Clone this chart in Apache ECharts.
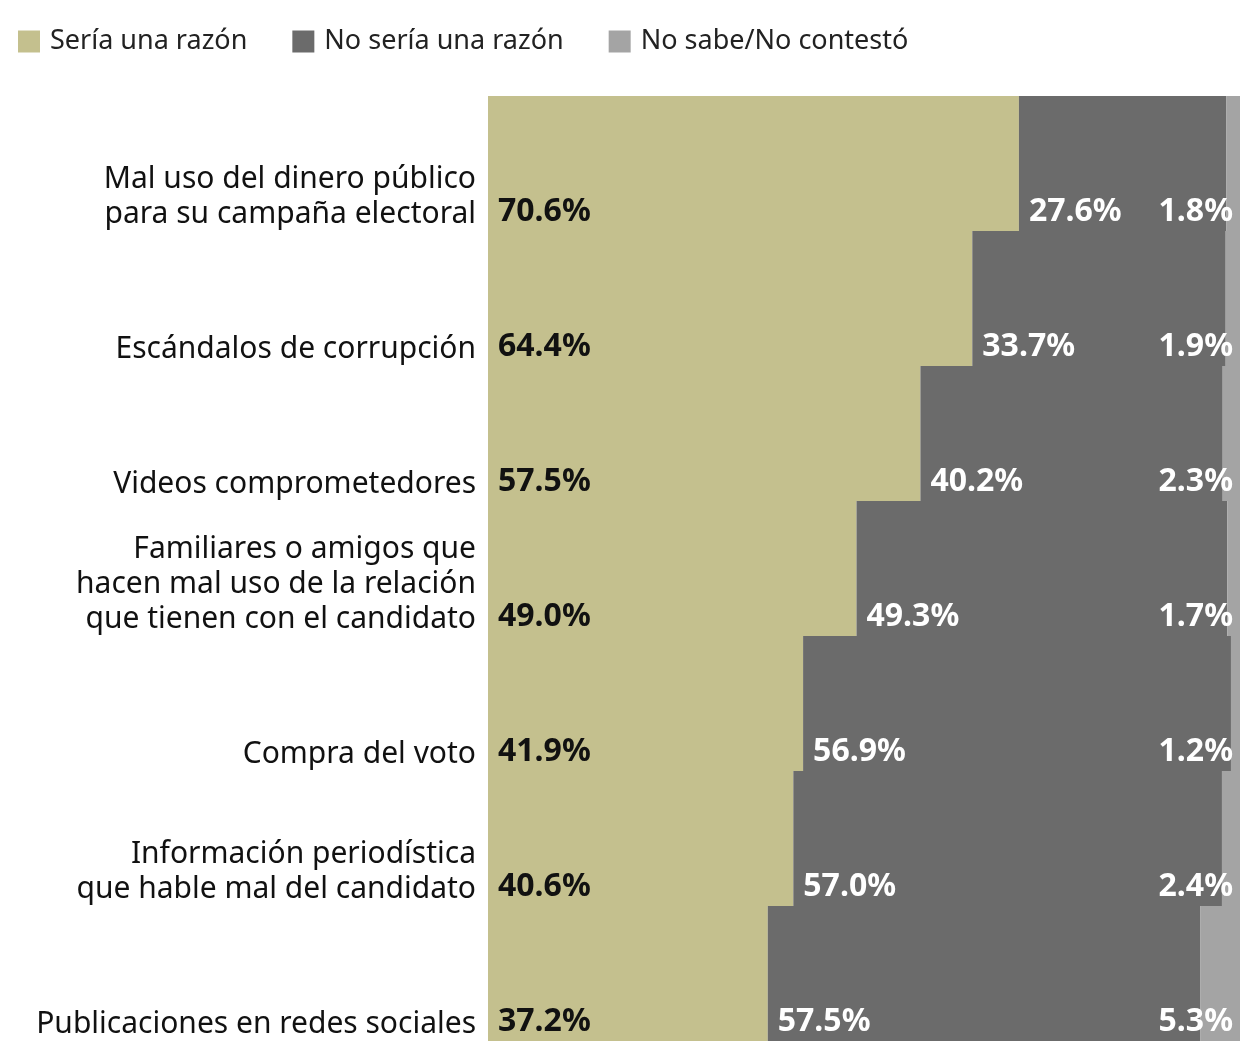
<!DOCTYPE html>
<html>
<head>
<meta charset="utf-8">
<script src="https://cdn.jsdelivr.net/npm/echarts@6/dist/echarts.min.js"></script>
<style>
  html, body { margin: 0; padding: 0; background: #fff; }
  #chart { width: 1240px; height: 1055px; }
</style>
</head>
<body>
<div id="chart"></div>
<script>
// categorías (de arriba hacia abajo)
const categories = [
  'Mal uso del dinero público\npara su campaña electoral',
  'Escándalos de corrupción',
  'Videos comprometedores',
  'Familiares o amigos que\nhacen mal uso de la relación\nque tienen con el candidato',
  'Compra del voto',
  'Información periodística\nque hable mal del candidato',
  'Publicaciones en redes sociales'
]
const seriaRazon = [70.6, 64.4, 57.5, 49.0, 41.9, 40.6, 37.2]
const noSeriaRazon = [27.6, 33.7, 40.2, 49.3, 56.9, 57.0, 57.5]
const noSabe = [1.8, 1.9, 2.3, 1.7, 1.2, 2.4, 5.3]
const seriesNames = ['Sería una razón', 'No sería una razón', 'No sabe/No contestó']

// colores
const colors = ['#c4c08e', '#6b6b6b', '#a4a4a4']
const font = 'Noto Sans'

function pct(p) {
  return p.value.toFixed(1) + '%'
}

const chart = echarts.init(document.getElementById('chart'))

const labelBase = {
  show: true,
  fontFamily: font,
  fontWeight: 'bold',
  fontSize: 32,
  offset: [0, 48],
  formatter: pct
}

const option = {
  animation: false,
  color: colors,
  legend: {
    left: 13,
    top: 23,
    itemWidth: 22,
    itemHeight: 22,
    itemGap: 45,
    icon: 'rect',
    textStyle: {
      fontFamily: font,
      fontSize: 27,
      color: '#222',
      padding: [0, 0, 0, 5]
    },
    data: seriesNames
  },
  grid: {
    left: 488,
    right: 0,
    top: 96,
    bottom: 14,
    containLabel: false
  },
  xAxis: {
    type: 'value',
    min: 0,
    max: 100,
    show: false
  },
  yAxis: {
    type: 'category',
    inverse: true,
    data: categories,
    axisLine: { show: false },
    axisTick: { show: false },
    axisLabel: {
      margin: 12,
      fontFamily: font,
      fontSize: 30,
      color: '#111',
      lineHeight: 35,
      align: 'right',
      verticalAlign: 'bottom',
      padding: [0, 0, -68, 0]
    }
  },
  series: [
    {
      name: seriesNames[0],
      type: 'bar',
      stack: 'total',
      barCategoryGap: 0,
      data: seriaRazon,
      label: Object.assign({}, labelBase, {
        position: 'insideLeft',
        distance: 10,
        color: '#111'
      })
    },
    {
      name: seriesNames[1],
      type: 'bar',
      stack: 'total',
      barCategoryGap: 0,
      data: noSeriaRazon,
      label: Object.assign({}, labelBase, {
        position: 'insideLeft',
        distance: 10,
        color: '#fff'
      })
    },
    {
      name: seriesNames[2],
      type: 'bar',
      stack: 'total',
      barCategoryGap: 0,
      data: noSabe,
      label: Object.assign({}, labelBase, {
        position: 'insideRight',
        distance: 7,
        color: '#fff'
      })
    }
  ]
}

chart.setOption(option)
</script>
</body>
</html>
